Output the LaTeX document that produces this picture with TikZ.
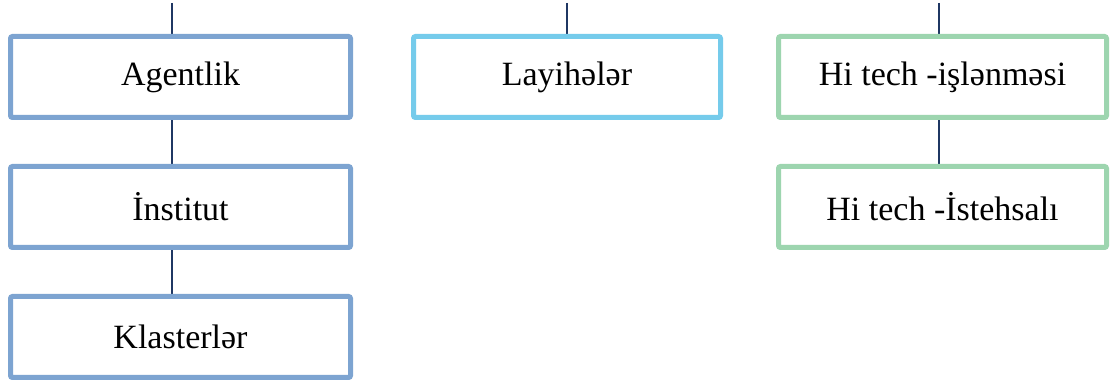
\documentclass[tikz,border=0pt]{standalone}
\usepackage{fontspec}
\setmainfont{Liberation Serif}
\usepackage{xcolor}
\usepackage{tikz}
\usetikzlibrary{positioning, backgrounds}
\definecolor{agencyblue}{RGB}{125,164,209}
\definecolor{projectcyan}{RGB}{117,203,235}
\definecolor{techgreen}{RGB}{157,213,175}
\definecolor{linknavy}{RGB}{31,55,99}
\tikzset{
    block/.style={
        rectangle,
        draw=agencyblue,
        line width=5pt,
        rounded corners=2pt,
        fill=white,
        text centered,
        minimum height=81pt,
        inner sep=0pt,
        font=\fontsize{34}{39}\selectfont
    },
    leftblock/.style={
        block,
        draw=agencyblue,
        minimum width=340pt
    },
    midblock/.style={
        block,
        draw=projectcyan,
        minimum width=307pt
    },
    rightblock/.style={
        block,
        draw=techgreen,
        minimum width=328pt
    },
    connection/.style={
        draw=linknavy,
        line width=1.5pt
    }
}
\begin{document}
\begin{tikzpicture}[x=1pt, y=1pt]
\useasboundingbox (0,0) rectangle (1111,385);

% Left column
\node[leftblock] (agent) at (180.5, 308) {Agentlik};
\node[leftblock] (inst) at (180.5, 178) {İnstitut};
\node[leftblock] (clust) at (180.5, 48) {Klasterlər};

% Middle column
\node[midblock] (proj) at (567, 308) {Layihələr};

% Right column
\node[rightblock] (dev) at (942.5, 308) {Hi tech -işlənməsi};
\node[rightblock] (prod) at (942.5, 178) {Hi tech -İstehsalı};

% Free ends at the top
\coordinate (topleft) at (172, 382);
\coordinate (topmid) at (567, 382);
\coordinate (topright) at (939, 382);

\begin{scope}[on background layer]
\draw[connection] (topleft) -- (agent.north -| topleft);
\draw[connection] (agent.south -| topleft) -- (inst.north -| topleft);
\draw[connection] (inst.south -| topleft) -- (clust.north -| topleft);
\draw[connection] (topmid) -- (proj.north);
\draw[connection] (topright) -- (dev.north -| topright);
\draw[connection] (dev.south -| topright) -- (prod.north -| topright);
\end{scope}

\end{tikzpicture}
\end{document}
